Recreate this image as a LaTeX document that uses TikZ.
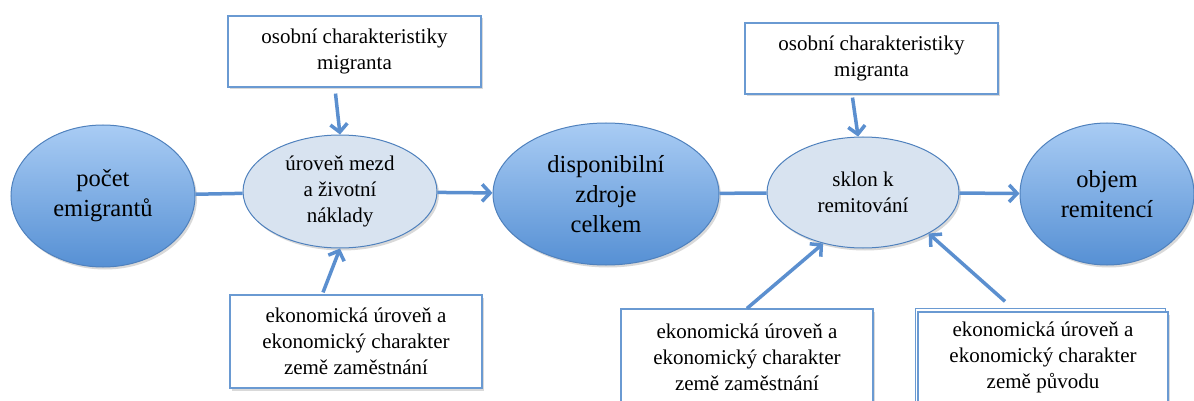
\documentclass[tikz,border=0pt]{standalone}
\usepackage{fontspec}
\IfFontExistsTF{LiberationSerif-Regular.ttf}
  {\newfontfamily\timesfont{LiberationSerif-Regular.ttf}\def\bigsize{24.5}\def\smallsize{21}}
  {\newfontfamily\timesfont{Latin Modern Roman}\def\bigsize{22}\def\smallsize{19}}
\usetikzlibrary{arrows.meta,shapes.geometric,calc,shadows}
\definecolor{edgeblue}{HTML}{4F81BD}
\definecolor{arrowblue}{HTML}{5B8FCF}
\definecolor{bigtop}{HTML}{A9CCF4}
\definecolor{bigbot}{HTML}{5690D4}
\definecolor{smallfill}{HTML}{D8E3F0}
\definecolor{boxedge}{HTML}{6A9AD2}
\begin{document}
\begin{tikzpicture}[x=1pt,y=-1pt,
  softshadow/.style={drop shadow={shadow xshift=2pt,shadow yshift=-2.5pt,opacity=0.25,fill=black!60}},
  bigell/.style={ellipse, draw=edgeblue, line width=1pt, top color=bigtop, bottom color=bigbot,
    inner sep=0pt, align=center, font=\timesfont\fontsize{\bigsize}{30}\selectfont, softshadow},
  smallell/.style={ellipse, draw=edgeblue, line width=1pt, fill=smallfill,
    inner sep=0pt, align=center, font=\timesfont\fontsize{\smallsize}{26}\selectfont, softshadow},
  infobox/.style={rectangle, draw=boxedge, line width=1.2pt, fill=white, inner sep=0pt,
    align=center, font=\timesfont\fontsize{\smallsize}{26}\selectfont, softshadow},
  link/.style={draw=arrowblue, line width=3.5pt},
  flow/.style={link, -{Straight Barb[length=8pt,width=17pt]}}]
\useasboundingbox (0,0) rectangle (1194,401);
\clip (0,0) rectangle (1194,401);

% ellipses
\node[bigell, minimum width=184pt, minimum height=142pt] (e1) at (103,196) {počet\\emigrantů};
\node[smallell, minimum width=194pt, minimum height=113pt] (e2) at (340,191.5) {úroveň mezd\\a životní\\náklady};
\node[bigell, minimum width=226pt, minimum height=142pt] (e3) at (606,194) {disponibilní\\zdroje\\celkem};
\node[smallell, minimum width=192pt, minimum height=111pt] (e4) at (863,192.5) {sklon k\\remitování};
\node[bigell, minimum width=174pt, minimum height=142pt] (e5) at (1107,194) {objem\\remitencí};

% boxes
\node[infobox, minimum width=253pt, minimum height=71pt] (t1) at (354.5,51.5) {osobní charakteristiky\\migranta};
\node[infobox, minimum width=253pt, minimum height=71pt] (t2) at (871.5,58.5) {osobní charakteristiky\\migranta};
\node[infobox, minimum width=252pt, minimum height=93pt] (b1) at (356,341.5) {ekonomická úroveň a\\ekonomický charakter\\země zaměstnání};
\node[infobox, minimum width=252pt, minimum height=96pt] (b2) at (747,357) {ekonomická úroveň a\\ekonomický charakter\\země zaměstnání};
\draw[boxedge, line width=1pt] (915.5,308) rectangle (1165.5,420);
\node[infobox, minimum width=250pt, minimum height=90pt] (b3) at (1043,357) {ekonomická úroveň a\\ekonomický charakter\\země původu};

% connectors
\draw[link] (e1) -- (e2);
\draw[flow] (e2) -- (e3);
\draw[link] (e3) -- (e4);
\draw[flow] (e4) -- (e5);
\draw[flow] ($(t1.south)+(-19,6)$) -- (e2.north);
\draw[flow] ($(b1.north)+(-33,-2)$) -- (e2.south);
\draw[flow] ($(t2.south)+(-19,3)$) -- (e4.95);
\draw[flow] (b2.north) -- (e4.232);
\draw[flow] ($(b3.north)+(-38,-10)$) -- (e4.-32);
\end{tikzpicture}
\end{document}
